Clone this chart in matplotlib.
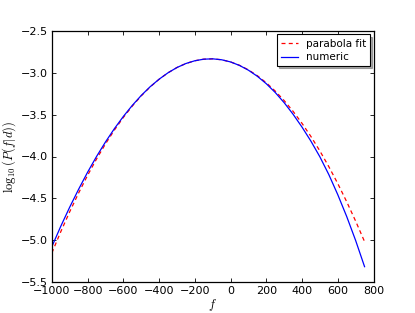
import matplotlib
matplotlib.use("Agg")
import matplotlib.pyplot as plt

# frequency grid
f_vals = [-1000, -950, -900, -850, -800, -750, -700, -650, -600, -550,
          -500, -450, -400, -350, -300, -250, -200, -150, -100, -50,
          0, 50, 100, 150, 200, 250, 300, 350, 400, 450,
          500, 550, 600, 650, 700, 750]

# dashed red curve
parabola_fit = [-5.155, -4.900, -4.661, -4.436, -4.225, -4.030, -3.849, -3.683, -3.532, -3.396,
                -3.274, -3.167, -3.075, -2.997, -2.934, -2.886, -2.853, -2.834, -2.830, -2.841,
                -2.867, -2.907, -2.962, -3.032, -3.117, -3.216, -3.330, -3.459, -3.603, -3.761,
                -3.934, -4.122, -4.324, -4.542, -4.774, -5.020]

# solid blue curve
numeric = [-5.080, -4.835, -4.606, -4.391, -4.188, -4.000, -3.826, -3.666, -3.520, -3.388,
           -3.269, -3.164, -3.074, -2.997, -2.934, -2.886, -2.853, -2.834, -2.830, -2.841,
           -2.867, -2.909, -2.966, -3.039, -3.128, -3.233, -3.355, -3.494, -3.648, -3.817,
           -4.004, -4.217, -4.457, -4.719, -5.006, -5.320]

x_ticks = [-1000, -800, -600, -400, -200, 0, 200, 400, 600, 800]
y_ticks = [-5.5, -5.0, -4.5, -4.0, -3.5, -3.0, -2.5]

plt.rcParams["mathtext.fontset"] = "cm"
plt.rcParams["font.family"] = "DejaVu Sans"

fig = plt.figure(figsize=(4.15, 3.13), dpi=100)
ax = fig.add_subplot(111)
fig.subplots_adjust(left=0.125, right=0.9, bottom=0.1, top=0.9)

ax.plot(f_vals, parabola_fit, color="red", ls=(0, (3.2, 2.6)), lw=0.9, label="parabola fit")
ax.plot(f_vals, numeric, "b-", lw=0.9, label="numeric")

ax.set_xlim(-1000, 800)
ax.set_ylim(-5.5, -2.5)
ax.set_xticks(x_ticks)
ax.set_yticks(y_ticks)
ax.tick_params(direction="in", top=True, right=True, length=3, width=0.6, labelsize=8, pad=3)
for s in ax.spines.values():
    s.set_linewidth(0.9)

ax.set_xlabel("$f$", fontsize=9, labelpad=1)
ax.set_ylabel(r"$\log_{10}(P(f|d))$", fontsize=9, labelpad=2)

leg = ax.legend(loc="upper right", fontsize=7.5, fancybox=False,
                shadow={"ox": 1.5, "oy": -1.5, "color": "0.35"},
                handlelength=1.6, borderaxespad=0.3, labelspacing=0.35,
                framealpha=1, edgecolor="black")
leg.get_frame().set_linewidth(0.8)

fig.savefig("out.png", dpi=100, facecolor="white")
